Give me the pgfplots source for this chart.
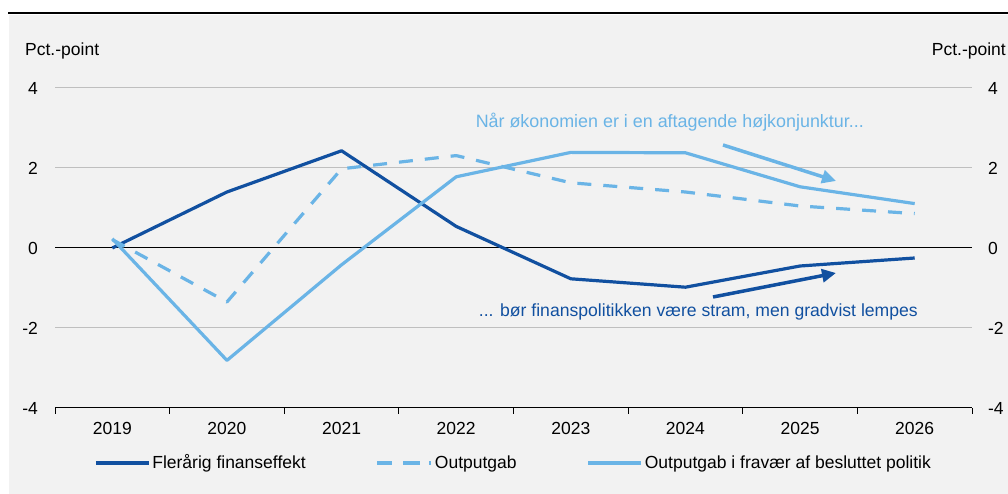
\documentclass[border=0pt]{standalone}
\usepackage{pgfplots}
\pgfplotsset{compat=1.18}
\usepackage{fontspec}
\setmainfont{Liberation Sans}
\usetikzlibrary{arrows.meta}
\definecolor{dblue}{HTML}{1150A0}
\definecolor{lblue}{HTML}{6AB4E6}
\definecolor{bggray}{HTML}{F2F2F2}
\definecolor{gridgray}{HTML}{BFBFBF}
\begin{document}
\fontsize{17.5bp}{20bp}\selectfont
\begin{tikzpicture}[x=1bp,y=1bp]
\useasboundingbox (0,0) rectangle (1008,494);
\fill[white] (0,0) rectangle (1008,494);
\fill[bggray] (9,0) rectangle (1008,479);
\draw[black, line width=1.5bp] (8,481) -- (1008,481);
\begin{axis}[
  at={(55bp,86bp)}, anchor=south west,
  scale only axis, width=917bp, height=320bp,
  xmin=-0.5, xmax=7.5, ymin=-4, ymax=4,
  axis x line*=bottom, axis y line*=left,
  y axis line style={draw=none},
  x axis line style={black, line width=1bp, -},
  xtick={0,...,7}, xticklabels={2019,2020,2021,2022,2023,2024,2025,2026},
  minor xtick={-0.5,0.5,...,7.5},
  major tick length=0pt, minor tick length=6bp,
  minor x tick style={black, line width=0.8bp},
  tick align=outside,
  ytick={-4,-2,0,2,4},
  ymajorgrids, grid style={gridgray, line width=1bp},
  extra y ticks={0}, extra y tick labels={},
  extra y tick style={grid style={black, line width=1bp}},
  /pgf/number format/assume math mode=true,
  tick label style={font=\fontsize{17.5bp}{20bp}\selectfont, text=black},
  yticklabel style={xshift=-11bp},
  xticklabel style={yshift=-8.5bp},
  clip=false,
  legend columns=3,
  legend style={draw=none, fill=none, inner sep=0pt, at={(0.0425,-0.172)}, anchor=west,
    font=\fontsize{17.5bp}{20bp}\selectfont,
    /tikz/every even column/.append style={column sep=68bp}},
  legend cell align=left,
  legend image code/.code={\draw[#1] (0bp,0bp) -- (53bp,0bp);},
]
\addplot[dblue, line width=3.2bp, line join=round] coordinates {
 (0,0.0) (1,1.40) (2,2.43) (3,0.54) (4,-0.77) (5,-0.98) (6,-0.45) (7,-0.25)};
\addlegendentry{Flerårig finanseffekt}
\addplot[lblue, line width=3.2bp, line join=round, dash pattern=on 14bp off 12bp,
  legend image code/.code={\draw[lblue, line width=3.2bp, dash pattern=on 15bp off 13bp] (0bp,0bp) -- (43bp,0bp); \path (0bp,0bp) -- (54bp,0bp);}] coordinates {
 (0,0.21) (1,-1.35) (2,1.98) (3,2.31) (4,1.63) (5,1.40) (6,1.05) (7,0.86)};
\addlegendentry{Outputgab}
\addplot[lblue, line width=3.2bp, line join=round] coordinates {
 (0,0.23) (1,-2.81) (2,-0.42) (3,1.78) (4,2.39) (5,2.38) (6,1.53) (7,1.11)};
\addlegendentry{Outputgab i fravær af besluttet politik}
\end{axis}
\begin{axis}[
  at={(55bp,86bp)}, anchor=south west,
  scale only axis, width=917bp, height=320bp,
  xmin=-0.5, xmax=7.5, ymin=-4, ymax=4,
  hide x axis, axis y line*=right,
  y axis line style={draw=none},
  ytick={-4,-2,0,2,4}, major tick length=0pt,
  /pgf/number format/assume math mode=true,
  tick label style={font=\fontsize{17.5bp}{20bp}\selectfont, text=black},
  yticklabel style={xshift=10bp},
]
\end{axis}
\node[anchor=base west, inner sep=0pt] at (25,438) {Pct.-point};
\node[anchor=base east, inner sep=0pt] at (1006,438) {Pct.-point};
\node[anchor=base east, inner sep=0pt, text=lblue, font=\fontsize{17.9bp}{20bp}\selectfont] at (864,366.5) {Når økonomien er i en aftagende højkonjunktur...};
\node[anchor=base east, inner sep=0pt, text=dblue, font=\fontsize{17.6bp}{20bp}\selectfont] at (918,177.3) {... bør finanspolitikken være stram, men gradvist lempes};
\draw[lblue, line width=3.5bp, -{Triangle[length=14bp,width=13bp]}] (723,349) -- (836,313);
\draw[dblue, line width=3.5bp, -{Triangle[length=14bp,width=13bp]}] (713,197) -- (836,221);
\end{tikzpicture}
\end{document}
